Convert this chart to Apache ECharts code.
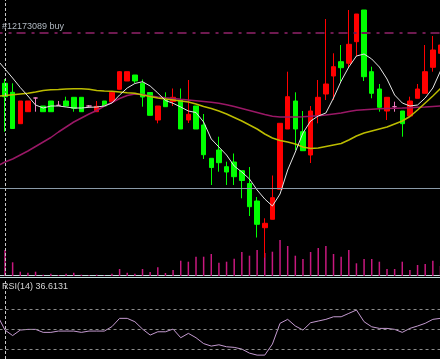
<!DOCTYPE html>
<html><head><meta charset="utf-8">
<script src="https://cdn.jsdelivr.net/npm/echarts@6/dist/echarts.min.js"></script>
<style>html,body{margin:0;padding:0;background:#000;overflow:hidden}#c{width:440px;height:359px}</style>
</head><body><div id="c"></div>
<script>
// Price units are arbitrary chart points (no price scale is shown in the reference).
// Bars 0..57 (one more bar, off-screen on the left, only feeds the indicator lines).
const openP  = [216.7,207.7,176.3,188.3,202,194,199,194.7,199,202.7,
                202.7,194,188.3,199,198.3,210.7,219,225,216.7,207.5,
                180,200,198.5,200,180,194,175,141.7,150,133.3,
                138,129.3,116.5,99,72.3,80.7,110.7,171,199,168.3,
                145,184.5,206,224,238.3,236.7,258.3,290,228.3,211,
                189,193.3,189,184,201.7,206.7,232.7,246.7];
const closeP = [203.3,171.5,199,199,202,188.3,188.3,194.7,194,191.7,
                188.3,194,193.7,194,207.7,228.3,228.3,219,203,184.7,
                194,193.3,202.7,171,185.7,171,145.3,132.5,137.3,128,
                123.3,119.5,93.3,75.7,76.7,102.3,176.7,203.3,171,149.3,
                189,202.7,216,233.3,232.3,255.7,286,223.3,206.7,192.7,
                202.7,193.3,176.3,199,211,228.3,250,255];
const lowP   = [168.3,171.5,176.3,188.3,188.3,188.3,188.3,194,194,188.3,
                188.3,193,188.3,194,198.3,210.5,219,217,193.3,184.7,
                176.7,193.3,194,171,177,171,141,115,128.3,115,
                115,101.7,84,62.5,42.3,80.7,110.7,171,150,149.3,
                137,176.7,200,200,218.5,233,244,219,201.7,188.3,
                180,188.3,163.3,184,201.7,206.7,228.3,246.7];
const highP  = [221,216.7,199,199,202.5,194,199,199,203.3,202.7,
                202.7,195,199,199,207.7,229,228.3,225,220.5,207.5,
                194,207.7,211.5,211.5,220,194,186,141.7,163.3,138.3,
                146.5,129.3,133,103,81.7,124.5,176.7,228.3,207.7,189,
                194,220,281,246.7,255,290,286,290,233.3,216,
                202.7,198.3,189,203.3,216,255,264,255];
// indicator lines: first value is the off-screen bar
const fastMA = [240,231,222,212.5,204,195,192,194,194,193,192,
                192,192.7,193,194,197,205,212,216.5,218.3,214,
                207,199.5,196.7,193,189,187.5,178,161,153,145,
                134,128,121,110,101,94,106,130,148,167,
                179,184,187,202,219,233,244,246,241,233,
                221,205,197,194,195,202,212,229];
const midMA  = [203.7,204.5,205.3,206,206.7,208,209.5,210.2,210.5,211,211.2,
                211.2,210.8,209.5,209,208.7,208,207.3,206.7,205,203.5,
                202,201,200,199,198,196,193.5,191.5,189,186,
                182.5,179,175,171,166,162,159.5,158,156,153,
                151.5,152,153.5,155,156.5,160,164,167,169,171,
                173,176,179,183.5,190,197,204,211.5];
const slowMA = [134,138,141,145,149,153.5,158,162.5,168,173,178,
                182,186,189.5,194,197.5,201.5,204.5,206,205.5,204,
                203,202.2,201.5,200.7,200,199.3,198.5,197.7,196.8,195.3,
                193.5,191.5,189.5,187.5,185.5,183.7,183,183,183,183.3,
                183.7,184.3,185,186,187,188.5,189.7,190.3,190.8,191.2,
                191.5,191.8,192,192.3,192.7,193,193.5,194];
const volume = ['-',260,137,43,33,43,13,23,10,23,33,
                13,7,13,7,23,70,33,23,70,40,
                87,30,60,153,143,193,193,220,133,143,
                173,240,203,260,230,243,360,300,203,170,
                240,280,300,220,193,260,127,170,170,143,
                70,70,143,60,110,120,153,100];
const rsi    = [64,49.1,43.6,49.1,49.8,49.8,46.8,46.8,48.1,48.1,48.1,
                46.8,48.1,48.1,48.1,52.6,60.9,60.9,57.5,50.1,44.1,
                47.4,47.4,50.1,41.4,45.8,41.4,35.5,33,34.3,32.3,
                31.7,30,25.9,23.9,23.9,35,55.9,59.9,53.2,49.1,
                56.5,58.2,59.9,62.5,62.5,65.9,69.3,57.5,52.4,50.8,
                50.8,49.8,46.8,50.8,53.2,55.9,59.9,60.9];
const rsiLevels = [70, 50, 30];
const buyLevel = 267;
const hLineLevel = 111.7;
const orderLabel = '#12173089 buy';
const rsiLabel = 'RSI(14) 36.6131';

const categories = fastMA.map((_, k) => 'bar' + k);
const doji = '#f07cc0';
const candleData = [['-','-','-','-']].concat(openP.map((o, i) => {
  const item = { value: [o, closeP[i], lowP[i], highP[i]] };
  if (o === closeP[i]) item.itemStyle = { color: doji, color0: doji, borderColor: doji, borderColor0: doji, borderColorDoji: doji };
  return item;
}));

const GL = -6.46, GR = -4.3;
const chart = echarts.init(document.getElementById('c'), null, { renderer: 'canvas' });
chart.setOption({
  backgroundColor: '#000000',
  animation: false,
  grid: [
    { left: GL, right: GR, top: 0, height: 276, outerBoundsMode: 'none', containLabel: false },
    { left: GL, right: GR, top: 279.5, bottom: 0, outerBoundsMode: 'none', containLabel: false }
  ],
  xAxis: [
    { type: 'category', gridIndex: 0, data: categories, boundaryGap: true, show: false },
    { type: 'category', gridIndex: 1, data: categories, boundaryGap: true, show: false }
  ],
  yAxis: [
    { type: 'value', gridIndex: 0, min: 24, max: 300, show: false, splitLine: { show: false } },
    { type: 'value', gridIndex: 0, min: 0, max: 2760, show: false, splitLine: { show: false } },
    { type: 'value', gridIndex: 1, min: 20, max: 100, show: false, splitLine: { show: false } }
  ],
  series: [
    { type: 'bar', xAxisIndex: 0, yAxisIndex: 1, data: volume, barWidth: 1.5,
      itemStyle: { color: '#c8187f' }, silent: true },
    { type: 'candlestick', xAxisIndex: 0, yAxisIndex: 0, data: candleData, barWidth: 5,
      itemStyle: { color: '#ff0000', color0: '#00ff00', borderColor: '#ff0000', borderColor0: '#00ff00', borderWidth: 1 },
      markLine: { silent: true, symbol: ['none', 'none'], label: { show: false },
        data: [
          { yAxis: buyLevel, lineStyle: { color: '#6e1a50', width: 2, type: [9, 6, 3, 5] } },
          { yAxis: hLineLevel, lineStyle: { color: '#8a9aa8', width: 1, type: 'solid' } },
          { xAxis: categories[1], lineStyle: { color: '#c8c8c8', width: 1, type: [3, 2] } }
        ] } },
    { type: 'line', xAxisIndex: 0, yAxisIndex: 0, data: slowMA, symbol: 'none',
      lineStyle: { color: '#9a1866', width: 1.5 } },
    { type: 'line', xAxisIndex: 0, yAxisIndex: 0, data: midMA, symbol: 'none',
      lineStyle: { color: '#bcbc00', width: 1.5 } },
    { type: 'line', xAxisIndex: 0, yAxisIndex: 0, data: fastMA, symbol: 'none',
      lineStyle: { color: '#e6e6e6', width: 1 } },
    { type: 'line', xAxisIndex: 1, yAxisIndex: 2, data: rsi, symbol: 'none',
      lineStyle: { color: '#c49ad0', width: 1 },
      markLine: { silent: true, symbol: ['none', 'none'], label: { show: false },
        data: rsiLevels.map(v => ({ yAxis: v, lineStyle: { color: '#8c8c8c', width: 1, type: [3, 3] } }))
          .concat([{ xAxis: categories[1], lineStyle: { color: '#c8c8c8', width: 1, type: [3, 2] } }]) } }
  ],
  graphic: [
    { type: 'line', shape: { x1: 0, y1: 275.5, x2: 440, y2: 275.5 }, style: { stroke: '#c4dcdc', lineWidth: 1 } },
    { type: 'line', shape: { x1: 0, y1: 277.5, x2: 440, y2: 277.5 }, style: { stroke: '#c4dcdc', lineWidth: 1 } },
    { type: 'text', left: 2, top: 22, style: { text: orderLabel, fill: '#b0b8c0', font: '9px "Liberation Sans", Arial, sans-serif' } },
    { type: 'text', left: 2, top: 282, style: { text: rsiLabel, fill: '#d4d4d4', font: '9px "Liberation Sans", Arial, sans-serif' } }
  ]
});
</script>
</body></html>
